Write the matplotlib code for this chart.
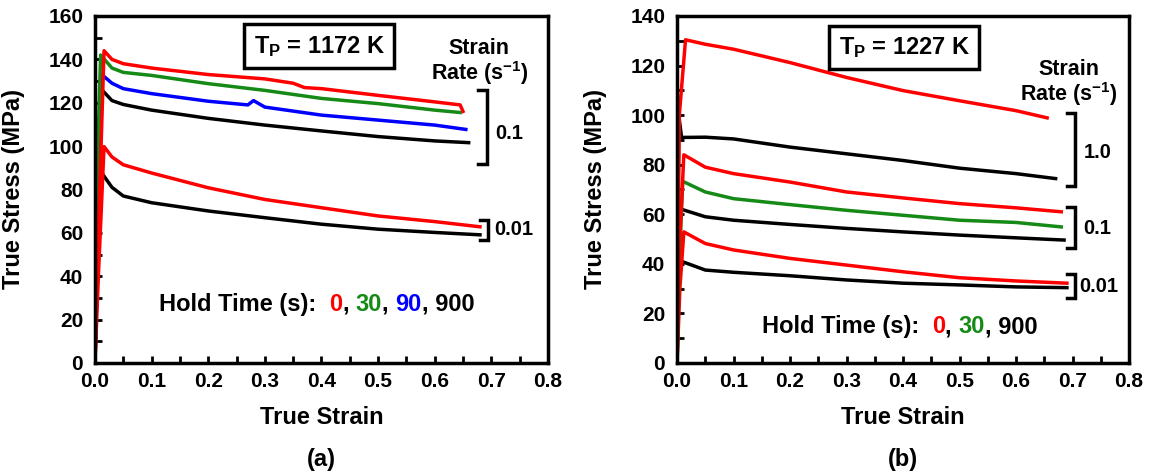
import matplotlib
matplotlib.use('Agg')
import matplotlib.pyplot as plt
from matplotlib.ticker import MultipleLocator
from matplotlib.offsetbox import TextArea, HPacker, AnnotationBbox

plt.rcParams['font.family'] = ['Liberation Sans', 'DejaVu Sans']
plt.rcParams['font.weight'] = 'bold'
plt.rcParams['mathtext.fontset'] = 'custom'
plt.rcParams['mathtext.rm'] = 'Liberation Sans:bold'
plt.rcParams['mathtext.it'] = 'Liberation Sans:bold'
plt.rcParams['mathtext.bf'] = 'Liberation Sans:bold'
plt.rcParams['mathtext.default'] = 'rm'

RED, GREEN, BLUE, BLACK = '#ff0000', '#168a16', '#0000ff', '#000000'

# ---- painel (a): Tp = 1172 K ----
# taxa 0.1 s^-1
a_r01_x = [0, 0.006, 0.016, 0.03, 0.05, 0.1, 0.2, 0.3, 0.35, 0.37, 0.4, 0.5, 0.6, 0.645, 0.65]
a_r01_y = [0, 60, 144, 140, 138, 136, 133, 131, 129, 127, 126.5, 123.4, 120.4, 119, 116]
a_g01_x = [0, 0.003, 0.01, 0.03, 0.05, 0.1, 0.2, 0.3, 0.4, 0.5, 0.6, 0.645]
a_g01_y = [0, 80, 142, 136, 134, 132.6, 128.8, 125.7, 122, 119.6, 116.6, 115.5]
a_b01_x = [0, 0.004, 0.012, 0.03, 0.05, 0.1, 0.2, 0.27, 0.28, 0.3, 0.4, 0.5, 0.6, 0.655]
a_b01_y = [0, 60, 133, 129, 126.5, 124.2, 120.7, 119, 121, 118, 114.3, 112, 109.7, 107.7]
a_k01_x = [0, 0.003, 0.012, 0.03, 0.05, 0.1, 0.2, 0.3, 0.4, 0.5, 0.6, 0.66]
a_k01_y = [0, 60, 126, 121, 119.2, 116.6, 112.8, 109.7, 107, 104.4, 102.4, 101.6]
# taxa 0.01 s^-1
a_r001_x = [0, 0.006, 0.016, 0.03, 0.05, 0.1, 0.2, 0.3, 0.4, 0.5, 0.6, 0.68]
a_r001_y = [0, 40, 99.8, 95, 91.4, 87.6, 80.8, 75.4, 71.6, 67.8, 65.2, 62.8]
a_k001_x = [0, 0.004, 0.012, 0.03, 0.05, 0.1, 0.2, 0.3, 0.4, 0.5, 0.6, 0.68]
a_k001_y = [0, 40, 87.6, 81, 77, 73.9, 70.1, 67, 64, 61.7, 60.2, 59.1]

# ---- painel (b): Tp = 1227 K ----
b_r1_x = [0, 0.004, 0.015, 0.05, 0.1, 0.2, 0.3, 0.4, 0.5, 0.6, 0.655]
b_r1_y = [0, 100, 130.4, 128.6, 126.6, 121.2, 115.2, 109.9, 105.8, 101.8, 98.9]
b_k1_x = [0, 0.003, 0.008, 0.05, 0.1, 0.2, 0.3, 0.4, 0.5, 0.6, 0.67]
b_k1_y = [0, 100, 91, 91.1, 90.4, 87.1, 84.4, 81.7, 78.6, 76.4, 74.4]
b_r01_x = [0, 0.005, 0.012, 0.05, 0.1, 0.2, 0.3, 0.4, 0.5, 0.6, 0.68]
b_r01_y = [0, 50, 84, 79, 76.4, 73, 69, 66.6, 64.3, 62.6, 61]
b_g01_x = [0, 0.004, 0.01, 0.05, 0.1, 0.2, 0.3, 0.4, 0.5, 0.6, 0.68]
b_g01_y = [0, 40, 73.3, 69, 66.3, 63.9, 61.6, 59.6, 57.6, 56.7, 54.9]
b_k01_x = [0, 0.003, 0.008, 0.05, 0.1, 0.2, 0.3, 0.4, 0.5, 0.6, 0.685]
b_k01_y = [0, 66, 62, 59, 57.6, 55.9, 54.3, 52.9, 51.6, 50.5, 49.6]
b_r001_x = [0, 0.005, 0.012, 0.05, 0.1, 0.2, 0.3, 0.4, 0.5, 0.6, 0.69]
b_r001_y = [0, 30, 52.9, 48.2, 45.6, 42.2, 39.5, 36.8, 34.4, 33.1, 32.2]
b_k001_x = [0, 0.003, 0.008, 0.05, 0.1, 0.2, 0.3, 0.4, 0.5, 0.6, 0.69]
b_k001_y = [0, 47, 41, 37.5, 36.6, 35.2, 33.5, 32.2, 31.5, 30.7, 30.4]

fig = plt.figure(figsize=(11.54, 4.76), dpi=100)
ax1 = fig.add_axes([0.0823, 0.2374, 0.3925, 0.729])
ax2 = fig.add_axes([0.5867, 0.2374, 0.3917, 0.729])

lw = 2.5
for x, y, c in [(a_k001_x, a_k001_y, BLACK), (a_r001_x, a_r001_y, RED),
                (a_k01_x, a_k01_y, BLACK), (a_b01_x, a_b01_y, BLUE),
                (a_g01_x, a_g01_y, GREEN), (a_r01_x, a_r01_y, RED)]:
    ax1.plot(x, y, color=c, lw=lw)

for x, y, c in [(b_k001_x, b_k001_y, BLACK), (b_r001_x, b_r001_y, RED),
                (b_k01_x, b_k01_y, BLACK), (b_g01_x, b_g01_y, GREEN),
                (b_r01_x, b_r01_y, RED), (b_k1_x, b_k1_y, BLACK),
                (b_r1_x, b_r1_y, RED)]:
    ax2.plot(x, y, color=c, lw=lw)


def estilo(ax, ymax):
    ax.set_xlim(0, 0.8)
    ax.set_ylim(0, ymax)
    ax.xaxis.set_major_locator(MultipleLocator(0.1))
    ax.xaxis.set_minor_locator(MultipleLocator(0.05))
    ax.yaxis.set_major_locator(MultipleLocator(20))
    ax.yaxis.set_minor_locator(MultipleLocator(10))
    ax.xaxis.set_major_formatter(plt.FormatStrFormatter('%.1f'))
    ax.tick_params(which='both', direction='in', width=2, length=5, labelsize=15)
    ax.tick_params(axis='y', pad=8.5)
    ax.tick_params(axis='x', pad=6.5)
    for s in ax.spines.values():
        s.set_linewidth(2.5)
    ax.set_xlabel('True Strain', fontsize=17, fontweight='bold')
    ax.set_ylabel('True Stress (MPa)', fontsize=17, fontweight='bold')
    ax.xaxis.set_label_coords(0.5, -0.125)
    ax.yaxis.set_label_coords(-0.154, 0.5)


def colchete(ax, x, y0, y1, w=0.015):
    ax.plot([x, x + w, x + w, x], [y1, y1, y0, y0], color='black', lw=2.5,
            clip_on=False, solid_joinstyle='miter')


def hold_time(ax, x, y, partes):
    areas = [TextArea(t, textprops=dict(color=c, fontsize=17, fontweight='bold'))
             for t, c in partes]
    box = HPacker(children=areas, align='baseline', pad=0, sep=0)
    ab = AnnotationBbox(box, (x, y), xycoords='data', frameon=False,
                        box_alignment=(0, 0.5), pad=0)
    ax.add_artist(ab)


estilo(ax1, 160)
estilo(ax2, 140)

# textos painel (a)
ax1.text(0.396, 146, 'T$_P$ = 1172 K', fontsize=17, ha='center', va='center',
         bbox=dict(boxstyle='square,pad=0.4', fc='white', ec='black', lw=2.5))
ax1.text(0.679, 138.4, 'Strain\nRate (s$^{-1}$)', fontsize=15.5, ha='center',
         va='center', linespacing=1.0)
colchete(ax1, 0.677, 91.9, 125.7)
ax1.text(0.707, 106, '0.1', fontsize=14.5, va='center')
colchete(ax1, 0.68, 56.5, 66)
ax1.text(0.705, 61.7, '0.01', fontsize=14.5, va='center')
hold_time(ax1, 0.113, 27, [('Hold Time (s):  ', BLACK), ('0', RED), (', ', BLACK),
                           ('30', GREEN), (', ', BLACK), ('90', BLUE), (', 900', BLACK)])

# textos painel (b)
ax2.text(0.402, 127.3, 'T$_P$ = 1227 K', fontsize=17, ha='center', va='center',
         bbox=dict(boxstyle='square,pad=0.4', fc='white', ec='black', lw=2.5))
ax2.text(0.694, 112.6, 'Strain\nRate (s$^{-1}$)', fontsize=15.5, ha='center',
         va='center', linespacing=1.0)
colchete(ax2, 0.69, 71.3, 100.9)
ax2.text(0.719, 85.1, '1.0', fontsize=14.5, va='center')
colchete(ax2, 0.69, 46.5, 63)
ax2.text(0.719, 54.3, '0.1', fontsize=14.5, va='center')
colchete(ax2, 0.69, 26.1, 35.8)
ax2.text(0.712, 31, '0.01', fontsize=14.5, va='center')
hold_time(ax2, 0.15, 14.7, [('Hold Time (s):  ', BLACK), ('0', RED), (', ', BLACK),
                            ('30', GREEN), (', 900', BLACK)])

fig.text(0.2786, 0.034, '(a)', fontsize=17, ha='center', va='center')
fig.text(0.7825, 0.034, '(b)', fontsize=17, ha='center', va='center')

fig.savefig('out.png', dpi=100)
